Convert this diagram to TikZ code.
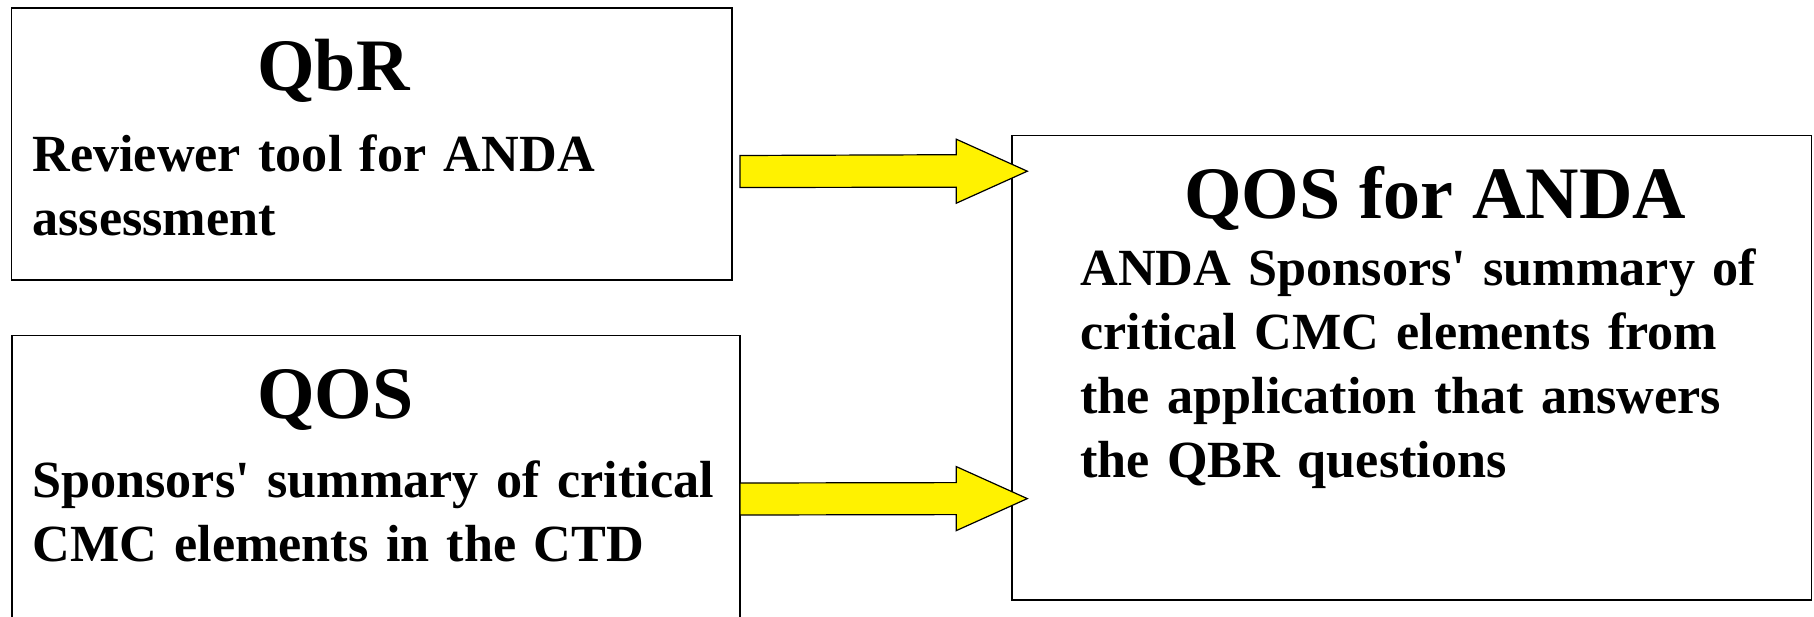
\documentclass[tikz,border=0pt]{standalone}
\usepackage{fontspec}
\setmainfont{Liberation Serif}[Ligatures=TeXOff]
\usetikzlibrary{calc}
\tikzset{
  box/.style={draw=black, line width=0.7pt, fill=white, rectangle, inner sep=0pt, outer sep=0pt},
  titletext/.style={anchor=base west, inner sep=0pt, font=\fontsize{37}{42}\selectfont\bfseries},
  bodytext/.style={anchor=base west, inner sep=0pt, text width=420pt, align=left, font=\fontsize{26.1}{32}\selectfont\bfseries},
  blockarrow/.style={draw=black, line width=0.6pt, fill=yellow, line join=miter}
}
\begin{document}
\begin{tikzpicture}[x=0.5pt, y=-0.5pt]
\useasboundingbox (0,0) rectangle (1814,616);
\clip (0,0) rectangle (1814,616);
\fill[white] (0,0) rectangle (1814,616);
% boxes
\node[box, minimum width=360.2pt, minimum height=136pt] (qbr) at (371.8,144) {};
\node[box, minimum width=364pt, minimum height=162.25pt] (qos) at (376,497.75) {};
\node[box, minimum width=399.75pt, minimum height=232.15pt] (anda) at (1411.75,367.85) {};
% texts
\node[titletext] (qbrtitle) at (257,90.7) {QbR};
\node[bodytext] (qbrbody) at (32,171.7) {Reviewer tool for ANDA\\assessment};
\node[titletext] (qostitle) at (257,418) {QOS};
\node[bodytext] (qosbody) at (32,497) {Sponsors' summary of critical\\CMC elements in the CTD};
\node[titletext] (andatitle) at (1184,218) {QOS for ANDA};
\node[bodytext] (andabody) at (1080,285.7) {ANDA Sponsors' summary of\\critical CMC elements from\\the application that answers\\the QBR questions};
% arrows
\coordinate (t1) at ($(qbr.east)+(8,27.5)$);
\coordinate (p1) at (1027.3,171.2);
\coordinate (t2) at ($(qos.east)+(0,1.25)$);
\coordinate (p2) at (1027.3,498.6);
\draw[blockarrow] ($(t1)+(0,-16)$) -- ($(p1)+(-71,-16.5)$) -- ($(p1)+(-71,-32)$) -- (p1)
  -- ($(p1)+(-71,32)$) -- ($(p1)+(-71,16)$) -- ($(t1)+(0,16)$) -- cycle;
\draw[blockarrow] ($(t2)+(0,-16)$) -- ($(p2)+(-71,-16)$) -- ($(p2)+(-71,-32)$) -- (p2)
  -- ($(p2)+(-71,32)$) -- ($(p2)+(-71,16)$) -- ($(t2)+(0,16)$) -- cycle;
\end{tikzpicture}
\end{document}
